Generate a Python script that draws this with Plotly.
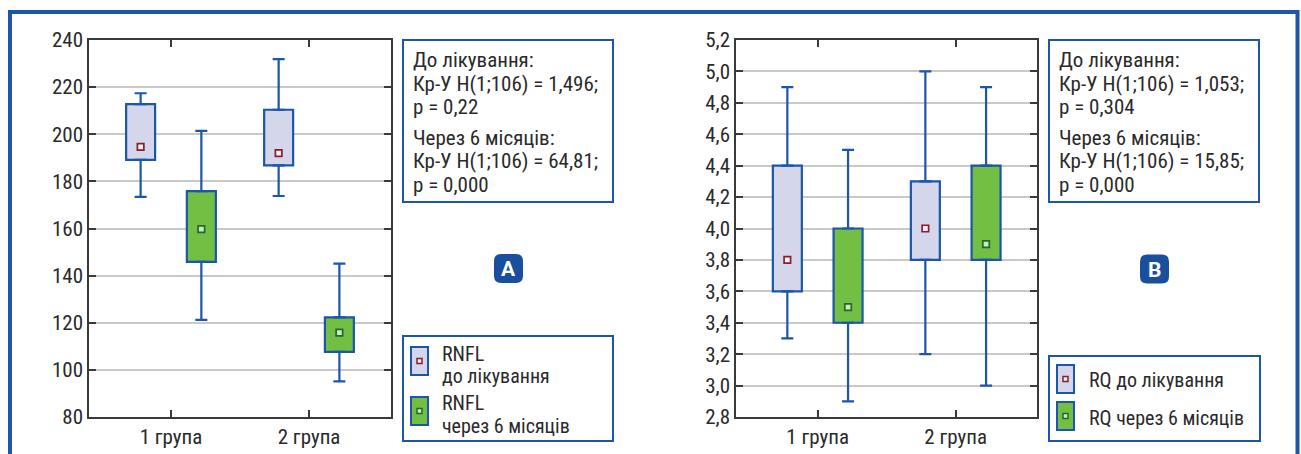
import plotly.graph_objects as go

# ---- data -------------------------------------------------------------
groups = ["1 група", "2 група"]

# RNFL, μm
rnfl_before_min = [173.4, 173.8]
rnfl_before_q1 = [189.1, 186.8]
rnfl_before_med = [194.6, 192.0]
rnfl_before_q3 = [212.8, 210.4]
rnfl_before_max = [217.4, 231.9]

rnfl_after_min = [121.2, 95.1]
rnfl_after_q1 = [145.8, 107.6]
rnfl_after_med = [159.7, 115.8]
rnfl_after_q3 = [175.9, 122.3]
rnfl_after_max = [201.4, 145.1]

# RQ
rq_before_min = [3.3, 3.2]
rq_before_q1 = [3.6, 3.8]
rq_before_med = [3.8, 4.0]
rq_before_q3 = [4.4, 4.3]
rq_before_max = [4.9, 5.0]

rq_after_min = [2.9, 3.0]
rq_after_q1 = [3.4, 3.8]
rq_after_med = [3.5, 3.9]
rq_after_q3 = [4.0, 4.4]
rq_after_max = [4.5, 4.9]

rnfl_ticks = [80, 100, 120, 140, 160, 180, 200, 220, 240]
rq_ticks = [2.8, 3.0, 3.2, 3.4, 3.6, 3.8, 4.0, 4.2, 4.4, 4.6, 4.8, 5.0, 5.2]
rq_ticktext = [f"{v:.1f}".replace(".", ",") for v in rq_ticks]

# ---- style ------------------------------------------------------------
W, H = 1301, 454
BLUE = "#1b56a8"
FILL_BEFORE = "#d4d7ec"
FILL_AFTER = "#72bf44"
MED_BEFORE = "#8b1c2c"
MED_AFTER = "#1f6a2c"
TXT = "#2a2a2a"
FONT = "Liberation Sans Narrow, Roboto Condensed, Arial Narrow, Roboto, sans-serif"
FS = 21
FS_LEG = 20
OFFSET = 0.22
BOXW = 0.21


def px(x):
    return x / W


def py(y):
    return 1 - y / H


fig = go.Figure()


def add_series(xa, ya, lo, q1, med, q3, hi, fill, medcol, medfill, shift):
    xs = [i + shift for i in range(len(groups))]
    fig.add_trace(go.Bar(
        x=xs, base=q1, y=[b - a for a, b in zip(q1, q3)], width=BOXW,
        marker=dict(color=fill, line=dict(color=BLUE, width=2.2)),
        xaxis=xa, yaxis=ya, showlegend=False, hoverinfo="skip"))
    # upper whiskers
    fig.add_trace(go.Scatter(
        x=xs, y=q3, mode="markers", marker=dict(size=1, opacity=0),
        error_y=dict(type="data", array=[b - a for a, b in zip(q3, hi)],
                     arrayminus=[0] * len(q3), color=BLUE, thickness=2.2, width=6),
        xaxis=xa, yaxis=ya, showlegend=False, hoverinfo="skip"))
    # lower whiskers
    fig.add_trace(go.Scatter(
        x=xs, y=q1, mode="markers", marker=dict(size=1, opacity=0),
        error_y=dict(type="data", array=[0] * len(q1),
                     arrayminus=[a - b for a, b in zip(q1, lo)], color=BLUE, thickness=2.2, width=6),
        xaxis=xa, yaxis=ya, showlegend=False, hoverinfo="skip"))
    # medians
    fig.add_trace(go.Scatter(
        x=xs, y=med, mode="markers",
        marker=dict(symbol="square", size=6.5, color=medfill, line=dict(color=medcol, width=1.7)),
        xaxis=xa, yaxis=ya, showlegend=False, hoverinfo="skip"))


add_series("x", "y", rnfl_before_min, rnfl_before_q1, rnfl_before_med, rnfl_before_q3,
           rnfl_before_max, FILL_BEFORE, MED_BEFORE, "#f4eeee", -OFFSET)
add_series("x", "y", rnfl_after_min, rnfl_after_q1, rnfl_after_med, rnfl_after_q3,
           rnfl_after_max, FILL_AFTER, MED_AFTER, "#cfe8bf", OFFSET)
add_series("x2", "y2", rq_before_min, rq_before_q1, rq_before_med, rq_before_q3,
           rq_before_max, FILL_BEFORE, MED_BEFORE, "#f4eeee", -OFFSET)
add_series("x2", "y2", rq_after_min, rq_after_q1, rq_after_med, rq_after_q3,
           rq_after_max, FILL_AFTER, MED_AFTER, "#cfe8bf", OFFSET)

axis_common = dict(showline=True, linecolor="#3a3a3a", linewidth=1.5, mirror="ticks",
                   ticks="inside", ticklen=7, tickwidth=1.5, tickcolor="#3a3a3a",
                   tickfont=dict(family=FONT, size=FS, color=TXT), zeroline=False,
                   automargin=False)

xaxis_common = dict(axis_common, tickmode="array", tickvals=[0, 1], ticktext=groups,
                    range=[-0.594, 1.594], showgrid=False)
yaxis_common = dict(axis_common, showgrid=True, gridcolor="#c9c9c9", gridwidth=1.6,
                    tickmode="array")

fig.update_layout(
    width=W, height=H, margin=dict(l=0, r=0, t=0, b=0, pad=0, autoexpand=False),
    paper_bgcolor="white", plot_bgcolor="white", barmode="overlay",
    xaxis=dict(xaxis_common, domain=[px(89), px(391)], anchor="y"),
    yaxis=dict(yaxis_common, domain=[py(417), py(40)], range=[80, 240],
               tickvals=rnfl_ticks, anchor="x"),
    xaxis2=dict(xaxis_common, domain=[px(736), px(1037)], anchor="y2",
                range=[-0.592, 1.589]),
    yaxis2=dict(yaxis_common, domain=[py(417), py(40)], range=[2.8, 5.2],
                tickvals=rq_ticks, ticktext=rq_ticktext, anchor="x2"),
    font=dict(family=FONT, size=FS, color=TXT),
)

shapes = []
annotations = []

# outer frame
shapes.append(dict(type="rect", xref="paper", yref="paper",
                   x0=px(10), x1=px(1297.5), y0=-0.1, y1=py(12),
                   line=dict(color=BLUE, width=4), layer="below"))


def text(x, y, s, size=FS, color=TXT, xanchor="left"):
    annotations.append(dict(xref="paper", yref="paper", x=px(x), y=py(y), text=s,
                            showarrow=False, xanchor=xanchor, yanchor="middle",
                            font=dict(family=FONT, size=size, color=color)))


def box(x0, y0, x1, y1):
    shapes.append(dict(type="rect", xref="paper", yref="paper",
                       x0=px(x0), x1=px(x1), y0=py(y1), y1=py(y0),
                       line=dict(color=BLUE, width=2), fillcolor="white"))


def stats_block(x0, lines):
    box(x0, 40, x0 + 210, 202)
    ys = [60, 83.5, 107, 138, 161.5, 185]
    for y, s in zip(ys, lines):
        text(x0 + 8, y, s)


stats_block(403, ["До лікування:", "Кр-У H(1;106) = 1,496;", "p = 0,22",
                  "Через 6 місяців:", "Кр-У H(1;106) = 64,81;", "p = 0,000"])
stats_block(1049, ["До лікування:", "Кр-У H(1;106) = 1,053;", "p = 0,304",
                   "Через 6 місяців:", "Кр-У H(1;106) = 15,85;", "p = 0,000"])


def badge(cx, cy, letter):
    r, h = 7, 14.5
    x0, x1, y0, y1 = cx - h, cx + h, cy - h, cy + h
    pth = (f"M {px(x0 + r)} {py(y0)} L {px(x1 - r)} {py(y0)} "
           f"Q {px(x1)} {py(y0)} {px(x1)} {py(y0 + r)} L {px(x1)} {py(y1 - r)} "
           f"Q {px(x1)} {py(y1)} {px(x1 - r)} {py(y1)} L {px(x0 + r)} {py(y1)} "
           f"Q {px(x0)} {py(y1)} {px(x0)} {py(y1 - r)} L {px(x0)} {py(y0 + r)} "
           f"Q {px(x0)} {py(y0)} {px(x0 + r)} {py(y0)} Z")
    shapes.append(dict(type="path", xref="paper", yref="paper", path=pth,
                       fillcolor="#1a4f9e", line=dict(width=0)))
    annotations.append(dict(xref="paper", yref="paper", x=px(cx), y=py(cy + 0.5), text=f"<b>{letter}</b>",
                            showarrow=False, xanchor="center", yanchor="middle",
                            font=dict(family="Roboto, Liberation Sans, sans-serif", size=21, color="white")))


badge(508.5, 268.5, "A")
badge(1154.5, 269, "B")


def swatch(x0, y0, fill, medcol, medfill):
    shapes.append(dict(type="rect", xref="paper", yref="paper",
                       x0=px(x0), x1=px(x0 + 17), y0=py(y0 + 28), y1=py(y0),
                       line=dict(color=BLUE, width=2), fillcolor=fill))
    cx, cy = x0 + 8.5, y0 + 14
    shapes.append(dict(type="rect", xref="paper", yref="paper",
                       x0=px(cx - 2.5), x1=px(cx + 2.5), y0=py(cy + 2.5), y1=py(cy - 2.5),
                       line=dict(color=medcol, width=1.5), fillcolor=medfill))


# RNFL legend
box(403, 336, 613, 441)
swatch(411, 347, FILL_BEFORE, MED_BEFORE, "#f4eeee")
swatch(411, 397, FILL_AFTER, MED_AFTER, "#cfe8bf")
text(440, 353.5, "RNFL", size=FS_LEG)
text(440, 376, "до лікування", size=FS_LEG)
text(440, 403, "RNFL", size=FS_LEG)
text(440, 425.5, "через 6 місяців", size=FS_LEG)

# RQ legend
box(1049, 356, 1260, 441)
swatch(1057, 365, FILL_BEFORE, MED_BEFORE, "#f4eeee")
swatch(1057, 402, FILL_AFTER, MED_AFTER, "#cfe8bf")
text(1087, 380, "RQ до лікування", size=FS_LEG)
text(1087, 418, "RQ через 6 місяців", size=FS_LEG)

fig.update_layout(shapes=shapes, annotations=annotations)

fig.write_html("out.html")
